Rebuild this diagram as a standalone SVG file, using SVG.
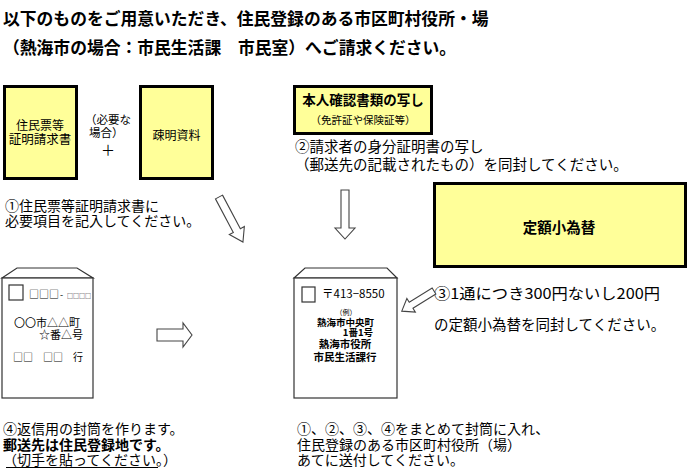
<svg xmlns="http://www.w3.org/2000/svg" width="690" height="470" viewBox="0 0 690 470">
<style>
text{font-family:"Noto Sans CJK JP","Noto Sans",sans-serif;fill:#000}
.t{font-size:16.8px;font-weight:bold}
.m{font-size:14px}
.box{fill:#FFFF99;stroke:#000;stroke-width:3}
.env{fill:#fff;stroke:#333;stroke-width:1.2}
.arr{fill:#fff;stroke:#444;stroke-width:1.1;stroke-linejoin:miter}
.stamp{fill:none;stroke:#333;stroke-width:1.2}
</style>
<rect width="690" height="470" fill="#fff"/>
<g id="title">
<text class="t" x="3" y="25">以下のものをご用意いただき、住民登録のある市区町村役所・場</text>
<text class="t" x="3" y="54">（熱海市の場合：市民生活課　市民室）へご請求ください。</text>
</g>
<g id="node-request-form">
<rect class="box" x="4.5" y="86.5" width="72" height="92"/>
<text x="40" y="130" font-size="12" text-anchor="middle">住民票等</text>
<text x="40" y="144" font-size="12.5" text-anchor="middle">証明請求書</text>
</g>
<g id="node-if-needed">
<text x="85" y="124" font-size="11.5">（必要な</text>
<text x="89" y="137" font-size="11.5">場合）</text>
<text x="108" y="155" font-size="14" text-anchor="middle">＋</text>
</g>
<g id="node-evidence">
<rect class="box" x="140.5" y="86.5" width="72" height="92"/>
<text x="176.5" y="140" font-size="12" text-anchor="middle">疎明資料</text>
</g>
<g id="step1">
<text class="m" x="5" y="211">①住民票等証明請求書に</text>
<text class="m" x="5" y="226">必要項目を記入してください。</text>
</g>
<g id="node-id-copy">
<rect class="box" x="294.5" y="86.5" width="137" height="47"/>
<text x="363" y="105" font-size="13.5" font-weight="bold" text-anchor="middle">本人確認書類の写し</text>
<text x="363" y="124" font-size="10.5" text-anchor="middle">（免許証や保険証等）</text>
</g>
<g id="step2">
<text x="295" y="152" font-size="14.5">②請求者の身分証明書の写し</text>
<text x="295" y="170" font-size="14.5">（郵送先の記載されたもの）を同封してください。</text>
</g>
<g id="node-money-order">
<rect class="box" x="434.5" y="183.5" width="251" height="83"/>
<text x="559" y="233" font-size="14.5" font-weight="bold" text-anchor="middle">定額小為替</text>
</g>
<g id="node-return-envelope">
<polygon class="env" points="2,278 17,268 77,268 93,278"/>
<rect class="env" x="2" y="278" width="91" height="120"/>
<rect class="stamp" x="9" y="285" width="14" height="15"/>
<text x="29" y="298" font-size="10" fill="#222">□□□</text>
<text x="60" y="298" font-size="9">-</text>
<text x="67" y="298" font-size="6" fill="#222">□□□□</text>
<text x="14" y="327" font-size="11">〇〇市△△町</text>
<text x="83" y="339" font-size="11" text-anchor="end">☆番△号</text>
<text x="13" y="361" font-size="10" fill="#222">□□　□□　行</text>
</g>
<g id="node-send-envelope">
<polygon class="env" points="294,278 305,268 387,268 397,278"/>
<rect class="env" x="294" y="278" width="103" height="120"/>
<rect class="stamp" x="302" y="287" width="13" height="15"/>
<text x="322" y="298" font-size="11.5">〒413−8550</text>
<text x="346" y="315" font-size="7" text-anchor="middle">（例）</text>
<text x="317" y="326" font-size="9.5" font-weight="bold">熱海市中央町</text>
<text x="373" y="336" font-size="9.5" font-weight="bold" text-anchor="end">1番1号</text>
<text x="345" y="348" font-size="10.5" font-weight="bold" text-anchor="middle">熱海市役所</text>
<text x="345" y="361" font-size="10.5" font-weight="bold" text-anchor="middle">市民生活課行</text>
</g>
<g id="step3">
<text x="434" y="299" font-size="15" textLength="226" lengthAdjust="spacingAndGlyphs">③1通につき300円ないし200円</text>
<text x="434" y="330" font-size="14.5">の定額小為替を同封してください。</text>
</g>
<g id="step4">
<text class="m" x="3" y="434">④返信用の封筒を作ります。</text>
<text class="m" x="3" y="450" font-weight="bold">郵送先は住民登録地です。</text>
<text class="m" x="3" y="465">（切手を貼ってください。）</text>
<line x1="6" y1="467.5" x2="158" y2="467.5" stroke="#000" stroke-width="1"/>
</g>
<g id="step5">
<text class="m" x="297" y="434">①、②、③、④をまとめて封筒に入れ、</text>
<text class="m" x="297" y="450">住民登録のある市区町村役所（場）</text>
<text class="m" x="297" y="465">あてに送付してください。</text>
</g>
<g id="connectors">
<polygon class="arr" transform="translate(219,197) rotate(62)" points="0,-4 38,-4 38,-8.5 51,0 38,8.5 38,4 0,4"/>
<polygon class="arr" points="341,190 349,190 349,228 355,228 345,239 335,228 341,228"/>
<polygon class="arr" points="157,329 183,329 183,323 192,335 183,347 183,341 157,341"/>
<polygon class="arr" transform="translate(434,291) rotate(148)" points="0,-3.5 27,-3.5 27,-8 38,0 27,8 27,3.5 0,3.5"/>
</g>
</svg>
